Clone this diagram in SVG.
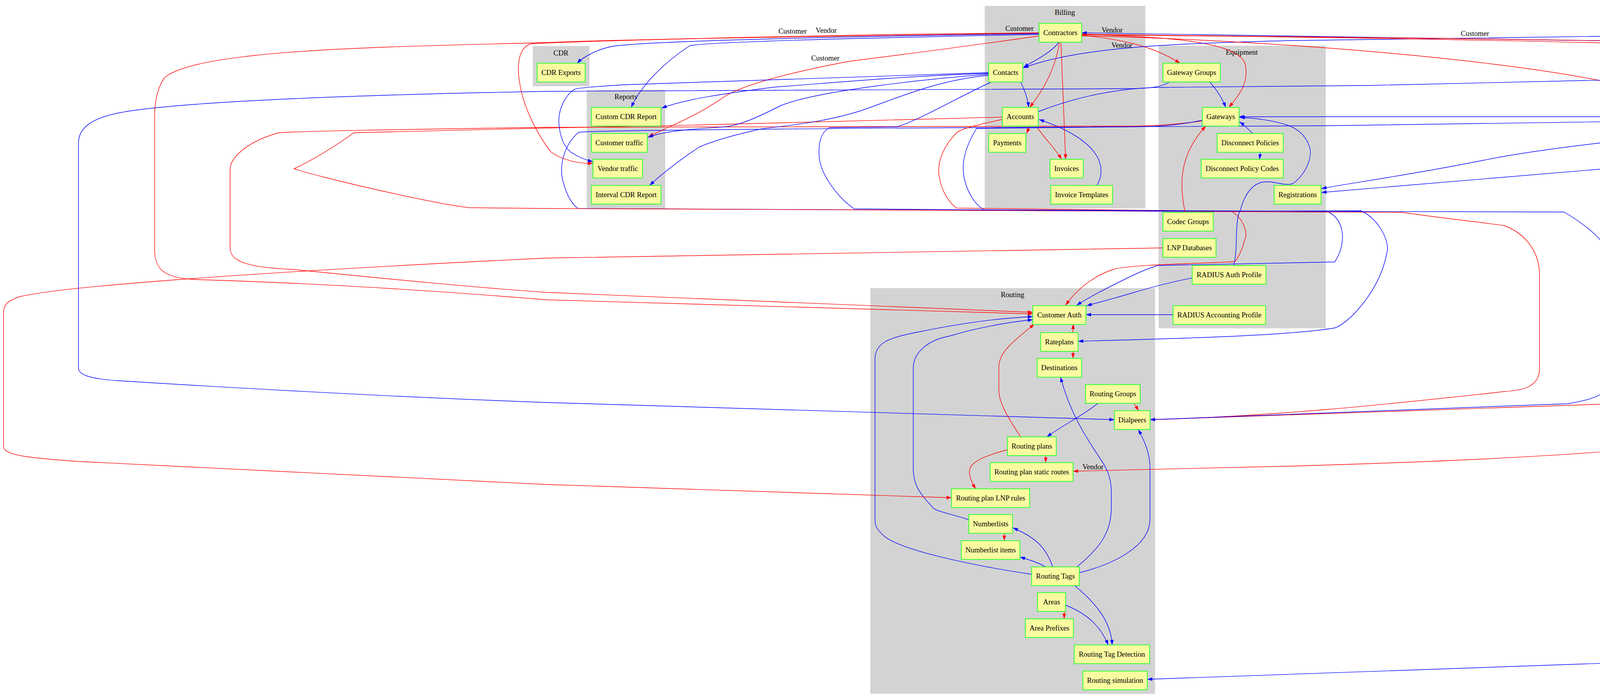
<svg xmlns="http://www.w3.org/2000/svg" width="5512" height="1793" viewBox="0 0 5512 1793">
<style>
.cl{fill:#d3d3d3}
.n rect{fill:#fafaa0;stroke:#33ff33;stroke-width:2}
text{font-family:"Liberation Serif","Times New Roman",serif;font-size:18.67px;fill:#000;text-anchor:middle}
.r{stroke:#ff0000;fill:none;stroke-width:1.4;marker-end:url(#ar)}
.b{stroke:#0000ff;fill:none;stroke-width:1.4;marker-end:url(#ab)}
</style>
<defs>
<marker id="ar" markerUnits="userSpaceOnUse" markerWidth="14" markerHeight="10" refX="13" refY="4.5" orient="auto"><path d="M0,0 L13,4.5 L0,9 z" fill="#ff0000"/></marker>
<marker id="ab" markerUnits="userSpaceOnUse" markerWidth="14" markerHeight="10" refX="13" refY="4.5" orient="auto"><path d="M0,0 L13,4.5 L0,9 z" fill="#0000ff"/></marker>
</defs>
<rect width="5512" height="1793" fill="#ffffff"/>
<g id="clusters">
<g id="cluster_cdr"><rect class="cl" x="1364" y="118" width="145" height="103"/><text x="1436" y="142">CDR</text></g>
<g id="cluster_reports"><rect class="cl" x="1502" y="230" width="201" height="305"/><text x="1602" y="254">Reports</text></g>
<g id="cluster_billing"><rect class="cl" x="2521" y="15" width="411" height="519"/><text x="2726" y="38">Billing</text></g>
<g id="cluster_equipment"><rect class="cl" x="2966" y="117" width="428" height="724"/><text x="3179" y="140">Equipment</text></g>
<g id="cluster_system"><rect class="cl" x="4843" y="16" width="214" height="654"/><text x="4950" y="38">System</text></g>
<g id="cluster_routing"><rect class="cl" x="2228" y="738" width="729" height="1039"/><text x="2592" y="761">Routing</text></g>
</g>
<g id="edges">
<path class="b" d="M2710,109 C2695,130 2660,150 2620,172"/>
<path class="r" d="M2712,109 C2705,160 2680,220 2636,275"/>
<path class="r" d="M2716,109 L2728,408"/>
<path class="b" d="M2613,210 C2625,235 2632,255 2633,275"/>
<path class="r" d="M2636,323 L2628,342"/>
<path class="r" d="M2654,325 C2675,355 2700,380 2718,408"/>
<path class="b" d="M2808,475 C2835,430 2820,360 2660,306"/>
<path class="r" d="M2769,90 C2850,100 2940,110 3021,162"/>
<path class="r" d="M2769,87 C2950,95 3170,100 3188,165 C3198,215 3170,245 3146,275"/>
<path class="b" d="M4854,83 C4200,90 3500,98 3300,104 C3000,112 2760,120 2620,174"/>
<path class="b" d="M4854,613 C4830,605 4818,598 4812,590 C4770,540 4760,470 4810,410 C4830,402 4900,402 5000,402 C5150,402 5180,396 5189,390 C5240,330 5270,260 5189,118 C5000,112 4500,108 4000,103 C3500,97 3000,88 2769,84"/>
<path class="r" d="M2769,88 C3500,95 4500,108 5060,118 C5140,200 5140,320 5058,392 C5000,400 4900,403 4790,406 C4600,450 4525,560 4525,689 L4525,1077 C4520,1150 3800,1180 3300,1194 L2747,1207"/>
<path class="r" d="M2769,92 C3200,100 3900,150 4200,230 C4300,260 4322,290 4322,320 L4328,950 C4325,1000 4300,1015 4137,1034 L2944,1075"/>
<path class="r" d="M2769,89 C3400,95 4000,105 4370,118 C4600,135 4750,160 4854,174"/>
<path class="r" d="M2660,85 C2200,92 1600,100 1400,109 C1000,120 500,125 420,200 C402,228 396,260 396,297 L396,640 C396,690 420,712 500,716 C700,722 1000,735 1400,768 L2644,804"/>
<path class="b" d="M2994,210 C2975,222 2950,226 2900,227 L1400,234 C800,245 420,265 300,290 C230,305 201,330 201,366 L201,943 C201,960 230,970 300,975 C700,1000 1100,1020 1400,1031 L2853,1075"/>
<path class="b" d="M4926,303 C5200,335 5450,380 5490,410 C5500,420 5502,430 5502,445 L5502,1600 C5502,1640 5300,1660 4900,1671 L2937,1740"/>
<path class="r" d="M4946,523 L4957,544"/>
<path class="b" d="M4948,442 C5010,465 5020,510 4991,544"/>
<path class="r" d="M4924,342 L4924,323"/>
<path class="b" d="M4854,370 L3383,493"/>
<path class="b" d="M4854,302 C4400,330 4000,370 3800,410 C3600,450 3450,470 3383,483"/>
<path class="b" d="M4854,299 L3172,299"/>
<path class="b" d="M4854,301 L3400,322 L2300,328 C1800,332 1500,335 1481,339 C1445,370 1432,420 1440,460 C1450,500 1465,525 1480,534 L3400,543 C3440,560 3450,620 3417,671 L2964,680 C2930,690 2900,705 2880,715 C2830,740 2790,760 2756,782"/>
<path class="r" d="M2566,306 C2500,320 2460,330 2449,340 C2410,380 2400,420 2404,450 C2410,490 2430,520 2449,533 L3152,541 C3185,560 3195,600 3187,612 C3180,640 3170,660 3161,670 C3100,675 2900,676 2850,690 C2790,710 2750,750 2728,782"/>
<path class="r" d="M3077,310 C3000,320 2950,323 2900,323 L1400,326 C1000,332 800,335 714,340 C640,360 589,400 589,435 L589,635 C589,665 620,685 750,690 C1000,715 1200,735 1400,749 L2644,800"/>
<path class="r" d="M2566,300 C2300,310 1800,320 1400,328 L906,340 C850,380 800,410 753,432 C800,450 1100,520 1201,532 L1400,534 L3590,544 C3700,560 3800,570 3851,578 C3910,600 3941,650 3941,702 L3941,945 C3941,990 3900,1000 3851,1003 C3600,1030 3300,1065 2944,1075"/>
<path class="b" d="M3077,308 C3030,318 2980,323 2946,324 L2500,329 C2490,345 2470,380 2466,420 C2462,470 2490,520 2518,537 C2800,540 3500,542 4004,543 C4100,600 4135,650 4135,706 L4135,940 C4135,1000 4100,1020 4014,1034 L2944,1075"/>
<path class="b" d="M2536,211 C2450,250 2350,310 2295,325 L2123,327 C2100,340 2095,370 2097,400 C2100,450 2150,510 2187,535 C2300,538 2600,540 3000,541 L3484,540 C3530,560 3560,620 3550,650 C3530,750 3450,830 3417,840 C3300,860 3000,868 2760,874"/>
<path class="b" d="M2658,286 C2750,250 2850,228 2955,224 L3500,219 L4854,188"/>
<path class="r" d="M3034,544 C3020,480 3015,400 3087,323"/>
<path class="b" d="M3097,210 C3115,230 3130,255 3138,275"/>
<path class="b" d="M3206,341 C3195,330 3185,320 3173,312"/>
<path class="b" d="M3227,390 L3224,408"/>
<path class="b" d="M3158,680 C3170,640 3160,560 3175,540 C3185,500 3205,470 3235,466 C3260,462 3290,478 3310,470 C3340,450 3365,400 3350,370 C3340,345 3320,330 3300,322 C3260,308 3210,302 3174,301"/>
<path class="b" d="M3052,712 C3000,722 2950,735 2900,750 C2850,765 2810,775 2782,783"/>
<path class="b" d="M3003,806 L2780,806"/>
<path class="b" d="M2480,1331 C2430,1315 2400,1310 2391,1303 C2350,1260 2338,1240 2338,1200 L2338,943 C2338,900 2380,870 2430,861 C2500,840 2580,825 2644,819"/>
<path class="b" d="M2641,1471 C2500,1450 2300,1410 2260,1370 C2245,1355 2240,1349 2240,1330 L2240,921 C2240,880 2270,865 2353,850 C2450,830 2550,815 2644,811"/>
<path class="b" d="M2695,1452 C2680,1410 2660,1380 2593,1352"/>
<path class="b" d="M2677,1452 C2660,1442 2640,1435 2611,1427"/>
<path class="b" d="M2757,1452 C2820,1400 2845,1360 2845,1300 L2845,1260 C2845,1220 2830,1195 2820,1180 C2780,1120 2740,1060 2715,966"/>
<path class="b" d="M2763,1467 C2850,1445 2944,1400 2944,1330 L2944,1200 C2944,1160 2930,1130 2914,1100"/>
<path class="b" d="M2751,1500 C2800,1540 2845,1590 2847,1652"/>
<path class="b" d="M2728,1550 C2790,1575 2820,1610 2837,1652"/>
<path class="r" d="M2725,1566 L2724,1585"/>
<path class="r" d="M2571,1366 L2571,1385"/>
<path class="r" d="M2613,1119 C2580,1070 2557,1030 2557,1000 L2557,940 C2557,900 2600,870 2648,830"/>
<path class="r" d="M2746,852 L2748,830"/>
<path class="r" d="M2747,900 L2747,918"/>
<path class="r" d="M2903,1033 L2915,1052"/>
<path class="b" d="M2811,1033 C2770,1065 2720,1090 2680,1119"/>
<path class="r" d="M2677,1166 L2677,1185"/>
<path class="r" d="M2579,1152 C2530,1165 2490,1180 2483,1200 C2478,1220 2490,1240 2498,1252"/>
<path class="r" d="M2977,635 L1400,661 C900,685 200,725 50,760 C20,770 9,780 9,800 L9,1143 C9,1165 60,1172 200,1182 L1400,1241 L2436,1275"/>
<path class="b" d="M2660,86 L2300,92 C1900,100 1650,108 1572,118 C1530,125 1495,145 1477,162"/>
<path class="b" d="M2660,88 L2300,96 C2000,103 1800,110 1766,117 C1700,160 1640,220 1616,275"/>
<path class="r" d="M2660,92 C2500,115 2350,135 2174,157 C2000,190 1900,220 1855,247 C1780,300 1720,320 1660,350"/>
<path class="r" d="M2660,84 L2300,88 C1900,95 1500,105 1360,112 C1330,120 1322,160 1330,210 C1340,280 1380,350 1410,389 C1440,410 1480,420 1518,418"/>
<path class="b" d="M2531,188 C2300,195 2100,215 1983,223 C1850,240 1750,255 1694,277"/>
<path class="b" d="M2531,190 C2400,200 2100,230 2000,270 C1950,295 1900,320 1855,325 C1780,330 1700,335 1659,352"/>
<path class="b" d="M2531,193 C2400,205 2300,250 2206,283 C2120,310 2050,318 1950,330 C1880,345 1830,360 1791,376 C1740,410 1700,440 1663,475"/>
<path class="b" d="M2531,186 L1600,217 C1520,222 1480,225 1470,229 C1440,250 1428,290 1431,320 C1435,360 1450,385 1467,393 C1485,405 1500,410 1518,414"/>
</g>
<g id="edge-labels">
<text x="2029" y="86">Customer</text>
<text x="2115" y="84">Vendor</text>
<text x="2113" y="155">Customer</text>
<text x="2610" y="79">Customer</text>
<text x="2847" y="83">Vendor</text>
<text x="2872" y="122">Vendor</text>
<text x="3776" y="92">Customer</text>
<text x="4106" y="363">&gt;0</text>
<text x="4109" y="426">&gt;0</text>
<text x="2798" y="1202">Vendor</text>
</g>
<g id="nodes">
<g class="n" id="n_cdr_exports"><rect x="1375" y="162" width="123" height="48"/><text x="1436.5" y="192">CDR Exports</text></g>
<g class="n" id="n_custom_cdr"><rect x="1514" y="275" width="178" height="48"/><text x="1603" y="305">Custom CDR Report</text></g>
<g class="n" id="n_customer_traffic"><rect x="1514" y="342" width="143" height="48"/><text x="1585.5" y="372">Customer traffic</text></g>
<g class="n" id="n_vendor_traffic"><rect x="1518" y="408" width="127" height="48"/><text x="1581.5" y="438">Vendor traffic</text></g>
<g class="n" id="n_interval_cdr"><rect x="1514" y="475" width="178" height="48"/><text x="1603" y="505">Interval CDR Report</text></g>
<g class="n" id="n_contractors"><rect x="2660" y="60" width="109" height="48"/><text x="2714.5" y="90">Contractors</text></g>
<g class="n" id="n_contacts"><rect x="2531" y="162" width="87" height="48"/><text x="2574.5" y="192">Contacts</text></g>
<g class="n" id="n_accounts"><rect x="2566" y="275" width="92" height="48"/><text x="2612" y="305">Accounts</text></g>
<g class="n" id="n_payments"><rect x="2531" y="342" width="95" height="48"/><text x="2578.5" y="372">Payments</text></g>
<g class="n" id="n_invoices"><rect x="2688" y="408" width="85" height="48"/><text x="2730.5" y="438">Invoices</text></g>
<g class="n" id="n_invoice_templates"><rect x="2690" y="475" width="158" height="48"/><text x="2769" y="505">Invoice Templates</text></g>
<g class="n" id="n_gateway_groups"><rect x="2977" y="162" width="147" height="48"/><text x="3050.5" y="192">Gateway Groups</text></g>
<g class="n" id="n_gateways"><rect x="3078" y="275" width="94" height="48"/><text x="3125" y="305">Gateways</text></g>
<g class="n" id="n_disconnect_policies"><rect x="3116" y="342" width="169" height="48"/><text x="3200.5" y="372">Disconnect Policies</text></g>
<g class="n" id="n_disconnect_policy_codes"><rect x="3075" y="408" width="210" height="48"/><text x="3180" y="438">Disconnect Policy Codes</text></g>
<g class="n" id="n_registrations"><rect x="3262" y="475" width="120" height="48"/><text x="3322" y="505">Registrations</text></g>
<g class="n" id="n_codec_groups"><rect x="2977" y="544" width="129" height="48"/><text x="3041.5" y="574">Codec Groups</text></g>
<g class="n" id="n_lnp_databases"><rect x="2977" y="611" width="136" height="48"/><text x="3045" y="641">LNP Databases</text></g>
<g class="n" id="n_radius_auth"><rect x="3052" y="680" width="189" height="48"/><text x="3146.5" y="710">RADIUS Auth Profile</text></g>
<g class="n" id="n_radius_acct"><rect x="3003" y="783" width="237" height="48"/><text x="3121.5" y="813">RADIUS Accounting Profile</text></g>
<g class="n" id="n_admin_users"><rect x="4854" y="60" width="121" height="48"/><text x="4914.5" y="90">Admin Users</text></g>
<g class="n" id="n_api_access"><rect x="4854" y="162" width="109" height="48"/><text x="4908.5" y="192">API Access</text></g>
<g class="n" id="n_pops"><rect x="4854" y="275" width="72" height="48"/><text x="4890" y="305">PoPs</text></g>
<g class="n" id="n_nodes"><rect x="4854" y="342" width="72" height="48"/><text x="4890" y="372">Nodes</text></g>
<g class="n" id="n_countries"><rect x="4853" y="408" width="95" height="48"/><text x="4900.5" y="438">Countries</text></g>
<g class="n" id="n_networks"><rect x="4853" y="475" width="95" height="48"/><text x="4900.5" y="505">Networks</text></g>
<g class="n" id="n_network_prefixes"><rect x="4860" y="544" width="153" height="48"/><text x="4936.5" y="574">Network Prefixes</text></g>
<g class="n" id="n_smtp"><rect x="4854" y="611" width="168" height="48"/><text x="4938" y="641">SMTP Connections</text></g>
<g class="n" id="n_customer_auth"><rect x="2644" y="783" width="136" height="48"/><text x="2712" y="813">Customer Auth</text></g>
<g class="n" id="n_rateplans"><rect x="2664" y="852" width="96" height="48"/><text x="2712" y="882">Rateplans</text></g>
<g class="n" id="n_destinations"><rect x="2655" y="918" width="114" height="48"/><text x="2712" y="948">Destinations</text></g>
<g class="n" id="n_routing_groups"><rect x="2779" y="985" width="140" height="48"/><text x="2849" y="1015">Routing Groups</text></g>
<g class="n" id="n_dialpeers"><rect x="2853" y="1052" width="91" height="48"/><text x="2898.5" y="1082">Dialpeers</text></g>
<g class="n" id="n_routing_plans"><rect x="2579" y="1119" width="125" height="48"/><text x="2641.5" y="1149">Routing plans</text></g>
<g class="n" id="n_rp_static_routes"><rect x="2535" y="1185" width="212" height="48"/><text x="2641" y="1215">Routing plan static routes</text></g>
<g class="n" id="n_rp_lnp_rules"><rect x="2436" y="1252" width="200" height="48"/><text x="2536" y="1282">Routing plan LNP rules</text></g>
<g class="n" id="n_numberlists"><rect x="2480" y="1318" width="112" height="48"/><text x="2536" y="1348">Numberlists</text></g>
<g class="n" id="n_numberlist_items"><rect x="2461" y="1385" width="150" height="48"/><text x="2536" y="1415">Numberlist items</text></g>
<g class="n" id="n_routing_tags"><rect x="2641" y="1452" width="122" height="48"/><text x="2702" y="1482">Routing Tags</text></g>
<g class="n" id="n_areas"><rect x="2656" y="1518" width="72" height="48"/><text x="2692" y="1548">Areas</text></g>
<g class="n" id="n_area_prefixes"><rect x="2625" y="1585" width="123" height="48"/><text x="2686.5" y="1615">Area Prefixes</text></g>
<g class="n" id="n_routing_tag_detection"><rect x="2750" y="1652" width="193" height="48"/><text x="2846.5" y="1682">Routing Tag Detection</text></g>
<g class="n" id="n_routing_simulation"><rect x="2772" y="1719" width="165" height="48"/><text x="2854.5" y="1749">Routing simulation</text></g>
</g>
</svg>
